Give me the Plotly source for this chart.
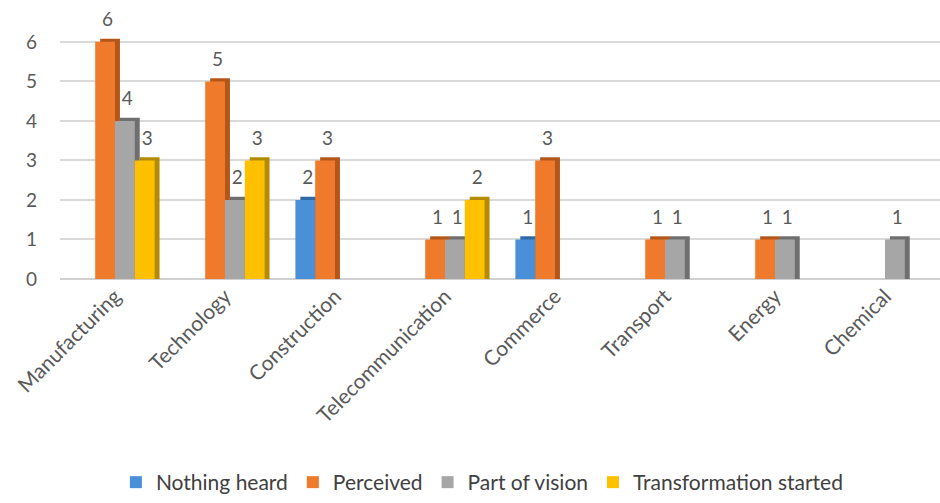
import plotly.graph_objects as go

categories = ["Manufacturing", "Technology", "Construction", "Telecommunication",
              "Commerce", "Transport", "Energy", "Chemical"]
series_names = ["Nothing heard", "Perceived", "Part of vision", "Transformation started"]
nothing_heard = [0, 0, 2, 0, 1, 0, 0, 0]
perceived = [6, 5, 3, 1, 3, 1, 1, 0]
part_of_vision = [4, 2, 0, 1, 0, 1, 1, 1]
transformation_started = [3, 3, 0, 2, 0, 0, 0, 0]
y_ticks = [0, 1, 2, 3, 4, 5, 6]

values = [nothing_heard, perceived, part_of_vision, transformation_started]
front_colors = ["#4A90D9", "#F07A2C", "#A6A6A6", "#FFC000"]
side_colors = ["#2F69A8", "#B4561A", "#6F6F6F", "#B38A00"]

FONT = "Lato"
slot = 0.18
depth_x = 0.045
depth_y = 0.08
label_lift = 0.22

fig = go.Figure()
for i, (name, vals) in enumerate(zip(series_names, values)):
    off = -0.36 + slot * i
    side_vals = [v + depth_y if v > 0 else 0 for v in vals]
    fig.add_trace(go.Bar(
        x=categories, y=side_vals, width=slot, offset=off + depth_x,
        marker=dict(color=side_colors[i], line=dict(width=0)),
        showlegend=False, hoverinfo="skip", cliponaxis=False,
    ))
    fig.add_trace(go.Bar(
        x=categories, y=vals, width=slot, offset=off, name=name,
        marker=dict(color=front_colors[i], line=dict(width=0)),
        cliponaxis=False,
    ))

for i, vals in enumerate(values):
    off = -0.36 + slot * i
    fig.add_trace(go.Bar(
        x=categories, y=[v + label_lift if v > 0 else 0 for v in vals],
        width=slot, offset=off + depth_x / 2,
        marker=dict(color="rgba(0,0,0,0)", line=dict(width=0)),
        text=[str(v) if v > 0 else "" for v in vals],
        textposition="outside", cliponaxis=False,
        textfont=dict(family=FONT, size=19, color="#595959"),
        showlegend=False, hoverinfo="skip",
    ))

fig.update_layout(
    width=940, height=503,
    barmode="overlay",
    paper_bgcolor="white", plot_bgcolor="white",
    margin=dict(l=60, r=0, t=30, b=219),
    font=dict(family=FONT, color="#595959"),
    xaxis=dict(
        tickangle=-45, tickfont=dict(family=FONT, size=21, color="#595959"),
        showgrid=False, showline=False, ticks="",
        range=[-0.5, 7.5],
    ),
    yaxis=dict(
        range=[0, 6.3], tickvals=y_ticks,
        tickfont=dict(family=FONT, size=19, color="#595959"),
        showgrid=True, gridcolor="#DADADA", gridwidth=1.5,
        zeroline=True, zerolinecolor="#D0D0D0", zerolinewidth=2,
        showline=False, ticks="", ticklabelstandoff=22,
    ),
    legend=dict(
        orientation="h", x=0.48, xanchor="center", y=-0.82, yanchor="middle",
        font=dict(family=FONT, size=21, color="#404040"),
        itemwidth=30, traceorder="normal",
    ),
)

fig.write_html("out.html")
